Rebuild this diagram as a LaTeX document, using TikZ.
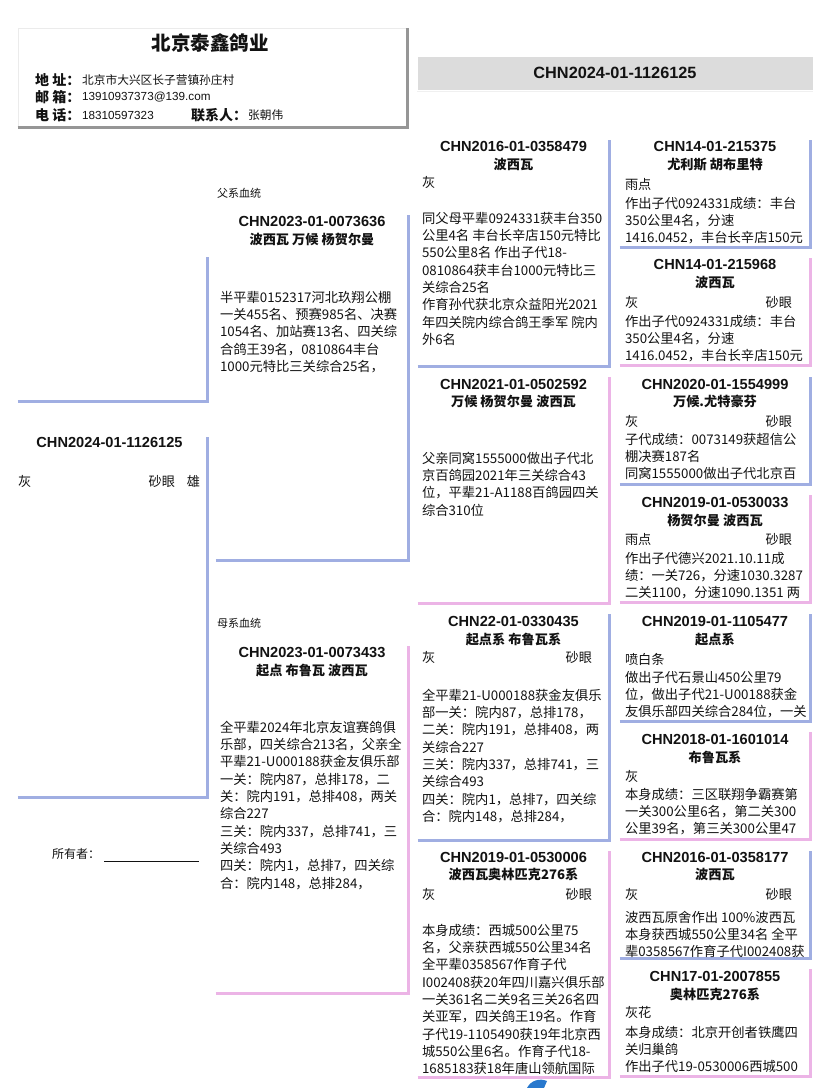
\documentclass[tikz,border=0pt]{standalone}
\usepackage{fontspec}
\setmainfont{Noto Sans CJK SC}
\newfontfamily\idfont{Liberation Sans}
\usetikzlibrary{positioning, calc}
\definecolor{sireblue}{RGB}{160,174,226}
\definecolor{dampink}{RGB}{236,180,230}
\definecolor{bargray}{RGB}{220,220,220}
\definecolor{shadegray}{RGB}{150,150,150}
\definecolor{ink}{RGB}{18,18,18}
\definecolor{logoblue}{RGB}{40,120,205}

\begin{document}
\begin{tikzpicture}[
    x=1pt, y=-1pt,
    every node/.style={inner sep=0pt, text=ink},
    ggbox/.style={rectangle, minimum width=190, minimum height=107},
    gpbox/.style={rectangle, minimum width=191, minimum height=226},
    parentbox/.style={rectangle, minimum width=192},
    sireline/.style={draw=sireblue, line width=2.6pt},
    damline/.style={draw=dampink, line width=2.6pt},
    idtext/.style={font=\idfont\bfseries\fontsize{14.6}{16}\selectfont},
    nametext/.style={font=\bfseries\fontsize{13.2}{16}\selectfont},
    colortext/.style={font=\fontsize{13.2}{16}\selectfont, anchor=west},
    eyetext/.style={font=\fontsize{13.2}{16}\selectfont, anchor=east},
    bodytext/.style={font=\fontsize{13.3}{17.3}\selectfont, align=left, anchor=north west},
    labeltext/.style={font=\bfseries\fontsize{14}{16}\selectfont, anchor=west},
    infotext/.style={font=\fontsize{11.7}{14}\selectfont, anchor=west},
    sidetext/.style={font=\fontsize{11}{13}\selectfont, anchor=west}
  ]
  \fill[white] (0,0) rectangle (828,1088);
  \useasboundingbox (0,0) rectangle (828,1088);

  % kennel header
  \node[rectangle, draw=black!8, line width=0.6pt, minimum width=389, minimum height=99] (head) at (212.5,77.5) {};
  \draw[draw=shadegray, line width=2.4pt] (head.south west) -- (head.south east) -- (head.north east);
  \node[font=\bfseries\fontsize{19.5}{22}\selectfont] (kennel) at (210,43) {北京泰鑫鸽业};
  \node[labeltext] (addrlbl) at (35,80) {地 址：};
  \node[infotext] (addr) at (82,80) {北京市大兴区长子营镇孙庄村};
  \node[labeltext] (maillbl) at (35,97) {邮 箱：};
  \node[infotext, font=\idfont\fontsize{11.7}{14}\selectfont] (mail) at (82,97) {13910937373@139.com};
  \node[labeltext] (tellbl) at (35,115) {电 话：};
  \node[infotext, font=\idfont\fontsize{11.7}{14}\selectfont] (tel) at (82,115) {18310597323};
  \node[labeltext] (contactlbl) at (191,115) {联系人：};
  \node[infotext] (contact) at (248,115) {张朝伟};

  \node[rectangle, fill=bargray, minimum width=395, minimum height=33, font=\idfont\bfseries\fontsize{16.3}{18}\selectfont] (ring) at (615,73) {CHN2024-01-1126125};
  \draw[black!6, line width=1.2pt] ($(ring.south west)+(0,2)$) -- ($(ring.south east)+(0,2)$);

  % subject
  \node[rectangle, minimum width=189, minimum height=144] (photo) at (112.5,329) {};
  \draw[sireline] (photo.south west) -- (photo.south east) -- (photo.north east);
  \node[rectangle, minimum width=189, minimum height=360] (subj) at (112.5,617) {};
  \draw[sireline] (subj.south west) -- (subj.south east) -- (subj.north east);
  \node[idtext] (subjid) at ($(subj.north)+(-3,6)$) {CHN2024-01-1126125};
  \node[colortext] (subjcolor) at ($(subj.north west)+(0,45)$) {灰};
  \node[eyetext] (subjeye) at ($(subj.north east)+(-32,45)$) {砂眼};
  \node[eyetext] (subjsex) at ($(subj.north east)+(-7,45)$) {雄};
  \node[infotext, font=\fontsize{12}{14}\selectfont] (owner) at (52,855) {所有者：\hspace{4pt}\rule[-2.5pt]{95pt}{0.7pt}};

  % sire and dam
  \node[sidetext] (sirelbl) at (217,193) {父系血统};
  \node[parentbox, minimum height=345] (sire) at (312,387.5) {};
  \draw[sireline] (sire.south west) -- (sire.south east) -- (sire.north east);
  \node[idtext] (sireid) at ($(sire.north)+(0,7)$) {CHN2023-01-0073636};
  \node[nametext] (sirename) at ($(sire.north)+(0,25)$) {波西瓦 万候 杨贺尔曼};
  \node[bodytext] (sirebody) at ($(sire.north west)+(4,76)$) {半平辈0152317河北玖翔公棚\\一关455名、预赛985名、决赛\\1054名、加站赛13名、四关综\\合鸽王39名，0810864丰台\\1000元特比三关综合25名，};

  \node[sidetext] (damlbl) at (217,623) {母系血统};
  \node[parentbox, minimum height=347] (dam) at (312,819.5) {};
  \draw[damline] (dam.south west) -- (dam.south east) -- (dam.north east);
  \node[idtext] (damid) at ($(dam.north)+(0,7)$) {CHN2023-01-0073433};
  \node[nametext] (damname) at ($(dam.north)+(0,25)$) {起点 布鲁瓦 波西瓦};
  \node[bodytext] (dambody) at ($(dam.north west)+(4,75)$) {全平辈2024年北京友谊赛鸽俱\\乐部，四关综合213名，父亲全\\平辈21-U000188获金友俱乐部\\一关：院内87，总排178，二\\关：院内191，总排408，两关\\综合227\\三关：院内337，总排741，三\\关综合493\\四关：院内1，总排7，四关综\\合：院内148，总排284，};

  % grandparents
  \node[gpbox] (gp1) at (513.5,253) {};
  \draw[sireline] (gp1.south west) -- (gp1.south east) -- (gp1.north east);
  \node[idtext] (gp1id) at ($(gp1.north)+(0,7)$) {CHN2016-01-0358479};
  \node[nametext] (gp1name) at ($(gp1.north)+(0,25)$) {波西瓦};
  \node[colortext] (gp1color) at ($(gp1.north west)+(4,43)$) {灰};
  \node[bodytext] (gp1body) at ($(gp1.north west)+(4,72)$) {同父母平辈0924331获丰台350\\公里4名 丰台长辛店150元特比\\550公里8名 作出子代18-\\0810864获丰台1000元特比三\\关综合25名\\作育孙代获北京众益阳光2021\\年四关院内综合鸽王季军 院内\\外6名};

  \node[gpbox] (gp2) at (513.5,490) {};
  \draw[damline] (gp2.south west) -- (gp2.south east) -- (gp2.north east);
  \node[idtext] (gp2id) at ($(gp2.north)+(0,8)$) {CHN2021-01-0502592};
  \node[nametext] (gp2name) at ($(gp2.north)+(0,25)$) {万候 杨贺尔曼 波西瓦};
  \node[bodytext] (gp2body) at ($(gp2.north west)+(4,75)$) {父亲同窝1555000做出子代北\\京百鸽园2021年三关综合43\\位，平辈21-A1188百鸽园四关\\综合310位};

  \node[gpbox] (gp3) at (513.5,727) {};
  \draw[sireline] (gp3.south west) -- (gp3.south east) -- (gp3.north east);
  \node[idtext] (gp3id) at ($(gp3.north)+(0,8)$) {CHN22-01-0330435};
  \node[nametext] (gp3name) at ($(gp3.north)+(0,26)$) {起点系 布鲁瓦系};
  \node[colortext] (gp3color) at ($(gp3.north west)+(4,44)$) {灰};
  \node[eyetext] (gp3eye) at ($(gp3.north east)+(-17,44)$) {砂眼};
  \node[bodytext] (gp3body) at ($(gp3.north west)+(4,75)$) {全平辈21-U000188获金友俱乐\\部一关：院内87，总排178，\\二关：院内191，总排408，两\\关综合227\\三关：院内337，总排741，三\\关综合493\\四关：院内1，总排7，四关综\\合：院内148，总排284，};

  \node[gpbox] (gp4) at (513.5,964) {};
  \draw[damline] (gp4.south west) -- (gp4.south east) -- (gp4.north east);
  \node[idtext] (gp4id) at ($(gp4.north)+(0,7)$) {CHN2019-01-0530006};
  \node[nametext] (gp4name) at ($(gp4.north)+(0,24)$) {波西瓦奥林匹克276系};
  \node[colortext] (gp4color) at ($(gp4.north west)+(4,44)$) {灰};
  \node[eyetext] (gp4eye) at ($(gp4.north east)+(-17,44)$) {砂眼};
  \node[bodytext] (gp4body) at ($(gp4.north west)+(4,73)$) {本身成绩：西城500公里75\\名，父亲获西城550公里34名\\全平辈0358567作育子代\\I002408获20年四川嘉兴俱乐部\\一关361名二关9名三关26名四\\关亚军，四关鸽王19名。作育\\子代19-1105490获19年北京西\\城550公里6名。作育子代18-\\1685183获18年唐山领航国际};

  % great-grandparents
  \node[ggbox] (gg1) at (715,193.5) {};
  \draw[sireline] (gg1.south west) -- (gg1.south east) -- (gg1.north east);
  \node[idtext] (gg1id) at ($(gg1.north)+(0,7)$) {CHN14-01-215375};
  \node[nametext] (gg1name) at ($(gg1.north)+(0,25)$) {尤利斯 胡布里特};
  \node[colortext] (gg1color) at ($(gg1.north west)+(5,45)$) {雨点};
  \node[bodytext] (gg1body) at ($(gg1.north west)+(5,57)$) {作出子代0924331成绩：丰台\\350公里4名，分速\\1416.0452，丰台长辛店150元};

  \node[ggbox] (gg2) at (715,311.5) {};
  \draw[damline] (gg2.south west) -- (gg2.south east) -- (gg2.north east);
  \node[idtext] (gg2id) at ($(gg2.north)+(0,7)$) {CHN14-01-215968};
  \node[nametext] (gg2name) at ($(gg2.north)+(0,25)$) {波西瓦};
  \node[colortext] (gg2color) at ($(gg2.north west)+(5,45)$) {灰};
  \node[eyetext] (gg2eye) at ($(gg2.north east)+(-18,45)$) {砂眼};
  \node[bodytext] (gg2body) at ($(gg2.north west)+(5,57)$) {作出子代0924331成绩：丰台\\350公里4名，分速\\1416.0452，丰台长辛店150元};

  \node[ggbox] (gg3) at (715,430.5) {};
  \draw[sireline] (gg3.south west) -- (gg3.south east) -- (gg3.north east);
  \node[idtext] (gg3id) at ($(gg3.north)+(0,8)$) {CHN2020-01-1554999};
  \node[nametext] (gg3name) at ($(gg3.north)+(0,25)$) {万候.尤特豪芬};
  \node[colortext] (gg3color) at ($(gg3.north west)+(5,45)$) {灰};
  \node[eyetext] (gg3eye) at ($(gg3.north east)+(-18,45)$) {砂眼};
  \node[bodytext] (gg3body) at ($(gg3.north west)+(5,56)$) {子代成绩：0073149获超信公\\棚决赛187名\\同窝1555000做出子代北京百};

  \node[ggbox] (gg4) at (715,548.5) {};
  \draw[damline] (gg4.south west) -- (gg4.south east) -- (gg4.north east);
  \node[idtext] (gg4id) at ($(gg4.north)+(0,8)$) {CHN2019-01-0530033};
  \node[nametext] (gg4name) at ($(gg4.north)+(0,26)$) {杨贺尔曼 波西瓦};
  \node[colortext] (gg4color) at ($(gg4.north west)+(5,45)$) {雨点};
  \node[eyetext] (gg4eye) at ($(gg4.north east)+(-18,45)$) {砂眼};
  \node[bodytext] (gg4body) at ($(gg4.north west)+(5,57)$) {作出子代德兴2021.10.11成\\绩：一关726，分速1030.3287\\二关1100，分速1090.1351 两};

  \node[ggbox] (gg5) at (715,667.5) {};
  \draw[sireline] (gg5.south west) -- (gg5.south east) -- (gg5.north east);
  \node[idtext] (gg5id) at ($(gg5.north)+(0,8)$) {CHN2019-01-1105477};
  \node[nametext] (gg5name) at ($(gg5.north)+(0,26)$) {起点系};
  \node[colortext] (gg5color) at ($(gg5.north west)+(5,46)$) {喷白条};
  \node[bodytext] (gg5body) at ($(gg5.north west)+(5,57)$) {做出子代石景山450公里79\\位，做出子代21-U00188获金\\友俱乐部四关综合284位，一关};

  \node[ggbox] (gg6) at (715,785.5) {};
  \draw[damline] (gg6.south west) -- (gg6.south east) -- (gg6.north east);
  \node[idtext] (gg6id) at ($(gg6.north)+(0,8)$) {CHN2018-01-1601014};
  \node[nametext] (gg6name) at ($(gg6.north)+(0,26)$) {布鲁瓦系};
  \node[colortext] (gg6color) at ($(gg6.north west)+(5,45)$) {灰};
  \node[bodytext] (gg6body) at ($(gg6.north west)+(5,56)$) {本身成绩：三区联翔争霸赛第\\一关300公里6名，第二关300\\公里39名，第三关300公里47};

  \node[ggbox] (gg7) at (715,904.5) {};
  \draw[sireline] (gg7.south west) -- (gg7.south east) -- (gg7.north east);
  \node[idtext] (gg7id) at ($(gg7.north)+(0,7)$) {CHN2016-01-0358177};
  \node[nametext] (gg7name) at ($(gg7.north)+(0,24)$) {波西瓦};
  \node[colortext] (gg7color) at ($(gg7.north west)+(5,44)$) {灰};
  \node[eyetext] (gg7eye) at ($(gg7.north east)+(-18,44)$) {砂眼};
  \node[bodytext] (gg7body) at ($(gg7.north west)+(5,60)$) {波西瓦原舍作出 100\%波西瓦\\本身获西城550公里34名 全平\\辈0358567作育子代I002408获};

  \node[ggbox] (gg8) at (715,1022.5) {};
  \draw[damline] (gg8.south west) -- (gg8.south east) -- (gg8.north east);
  \node[idtext] (gg8id) at ($(gg8.north)+(0,8)$) {CHN17-01-2007855};
  \node[nametext] (gg8name) at ($(gg8.north)+(0,26)$) {奥林匹克276系};
  \node[colortext] (gg8color) at ($(gg8.north west)+(5,44)$) {灰花};
  \node[bodytext] (gg8body) at ($(gg8.north west)+(5,57)$) {本身成绩：北京开创者铁鹰四\\关归巢鸽\\作出子代19-0530006西城500};

  % logo fragment at the bottom edge
  \fill[logoblue] (527,1088) .. controls (531,1080) and (540,1078) .. (547,1081) -- (544,1088) -- cycle;
\end{tikzpicture}
\end{document}
